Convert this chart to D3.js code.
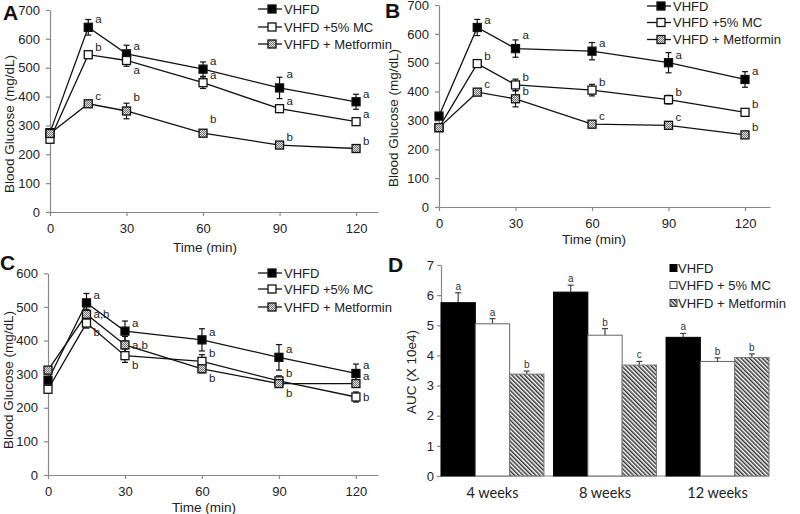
<!DOCTYPE html>
<html><head><meta charset="utf-8">
<script src="https://cdn.jsdelivr.net/npm/d3@7"></script>
<style>
body{margin:0;background:#fff;}
svg{display:block;font-family:"Liberation Sans",Arial,sans-serif;}
.tick text{fill:#222;}
</style></head>
<body>
<svg id="c" width="800" height="514"></svg>
<script>
// ---------- DATA ----------
const times = [0, 15, 30, 60, 90, 120];
const timeTicks = [0, 30, 60, 90, 120];
const seriesNames = ["VHFD", "VHFD +5% MC", "VHFD + Metformin"];

// Panel A
const aVHFD = [275, 640, 548, 495, 430, 382];
const aVHFDerr = [10, 27, 30, 25, 37, 26];
const aMC = [252, 545, 525, 448, 358, 313];
const aMCerr = [8, 10, 20, 20, 12, 10];
const aMet = [272, 375, 350, 273, 232, 220];
const aMetErr = [8, 10, 27, 7, 5, 5];
const aVHFDlet = ["", "a", "a", "a", "a", "a"];
const aMClet = ["", "b", "a", "a", "a", "a"];
const aMetLet = ["", "c", "b", "b", "b", "b"];
const aVHFDpos = ["", "u", "u", "u", "h", "u"];
const aMCpos = ["", "u", "d", "u", "u", "u"];
const aMetPos = ["", "u", "h", "h", "u", "u"];

// Panel B
const bVHFD = [315, 622, 549, 540, 500, 442];
const bVHFDerr = [8, 28, 30, 30, 35, 27];
const bMC = [275, 497, 423, 405, 372, 328];
const bMCerr = [6, 8, 20, 20, 15, 10];
const bMet = [275, 398, 375, 287, 283, 250];
const bMetErr = [6, 8, 28, 5, 5, 5];
const bVHFDlet = ["", "a", "a", "a", "a", "a"];
const bMClet = ["", "b", "b", "b", "b", "b"];
const bMetLet = ["", "c", "b", "c", "c", "b"];
const bVHFDpos = ["", "u", "h", "u", "u", "u"];
const bMCpos = ["", "u", "u", "u", "u", "u"];
const bMetPos = ["", "u", "u", "u", "u", "u"];

// Panel C
const cVHFD = [282, 512, 428, 402, 350, 302];
const cVHFDerr = [8, 28, 30, 33, 38, 28];
const cMC = [255, 452, 355, 338, 280, 232];
const cMCerr = [6, 15, 20, 20, 15, 15];
const cMet = [312, 478, 387, 316, 272, 272];
const cMetErr = [6, 15, 25, 12, 10, 5];
const cVHFDlet = ["", "a", "a", "a", "a", "a"];
const cMClet = ["", "b", "b", "b", "b", "b"];
const cMetLet = ["", "a,b", "a,b", "b", "b", "a"];
const cVHFDpos = ["", "u", "u", "u", "u", "u"];
const cMCpos = ["", "d", "d", "u", "u", "m"];
const cMetPos = ["", "m", "m", "d", "d", "u"];

// Panel D
const weeks = ["4 weeks", "8 weeks", "12 weeks"];
const barNames = ["VHFD", "VHFD + 5% MC", " VHFD + Metformin"];
const dVHFD = [5.75, 6.1, 4.6];
const dVHFDerr = [0.33, 0.23, 0.13];
const dMC = [5.05, 4.67, 3.8];
const dMCerr = [0.17, 0.22, 0.12];
const dMet = [3.38, 3.68, 3.93];
const dMetErr = [0.1, 0.12, 0.12];
const dVHFDlet = ["a", "a", "a"];
const dMClet = ["a", "b", "b"];
const dMetLet = ["b", "c", "b"];
const aucTicks = [0, 1, 2, 3, 4, 5, 6, 7];
const glucTicks700 = [0, 100, 200, 300, 400, 500, 600, 700];
const glucTicks600 = [0, 100, 200, 300, 400, 500, 600];

// ---------- DRAW ----------
const svg = d3.select("#c");
const defs = svg.append("defs");
const cross = defs.append("pattern").attr("id", "cross").attr("patternUnits", "userSpaceOnUse")
  .attr("width", 2).attr("height", 2);
cross.append("rect").attr("width", 2).attr("height", 2).attr("fill", "#e4e4e4");
cross.append("rect").attr("width", 1).attr("height", 1).attr("fill", "#707070");
cross.append("rect").attr("x", 1).attr("y", 1).attr("width", 1).attr("height", 1).attr("fill", "#707070");
const hatch = defs.append("pattern").attr("id", "hatch").attr("patternUnits", "userSpaceOnUse")
  .attr("width", 3).attr("height", 3).attr("patternTransform", "rotate(-45)");
hatch.append("rect").attr("width", 3).attr("height", 3).attr("fill", "#fff");
hatch.append("line").attr("x1", 0.75).attr("x2", 0.75).attr("y1", 0).attr("y2", 3)
  .attr("stroke", "#333").attr("stroke-width", 1.5);

const markerFill = ["#000", "#fff", "url(#cross)"];
const posDy = {h: -10, u: -4, m: 4, d: 13};
const axisCol = "#888";

function styleAxis(g) {
  g.select(".domain").attr("stroke", axisCol).attr("stroke-width", 1.2);
  g.selectAll(".tick line").attr("stroke", axisCol).attr("stroke-width", 1.2);
  g.selectAll(".tick text").attr("font-size", 13).attr("font-family", "Liberation Sans, Arial, sans-serif");
}

function linePanel(p) {
  const g = svg.append("g");
  const x = d3.scaleLinear().domain([0, p.xMax]).range([p.x0, p.x1]);
  const y = d3.scaleLinear().domain([0, p.yMax]).range([p.y0, p.y1]);
  const gx = g.append("g").attr("transform", `translate(0,${p.y0})`)
    .call(d3.axisBottom(x).tickValues(timeTicks).tickSize(4).tickSizeOuter(0).tickPadding(8));
  styleAxis(gx);
  const gy = g.append("g").attr("transform", `translate(${p.x0},0)`)
    .call(d3.axisLeft(y).tickValues(p.yTicks).tickSize(4).tickSizeOuter(0).tickPadding(6));
  styleAxis(gy);
  g.append("text").attr("x", (p.x0 + x(120)) / 2 + 2).attr("y", p.xlabY).attr("text-anchor", "middle")
    .attr("font-size", 13.5).attr("fill", "#222").text("Time (min)");
  g.append("text").attr("transform", `translate(${p.ylabX},${p.ylabY}) rotate(-90)`)
    .attr("text-anchor", "middle").attr("font-size", 13.5).attr("fill", "#222").text("Blood Glucose (mg/dL)");
  g.append("text").attr("x", p.lx).attr("y", p.ly).attr("font-size", 21).attr("font-weight", "bold")
    .attr("fill", "#111").text(p.letter);

  const line = d3.line().x((d, i) => x(times[i])).y(d => y(d));
  p.series.forEach(s => {
    g.append("path").attr("d", line(s.v)).attr("fill", "none").attr("stroke", "#111").attr("stroke-width", 1.3);
  });
  p.series.forEach(s => {
    s.v.forEach((v, i) => {
      const cx = x(times[i]), e = s.e[i];
      g.append("line").attr("x1", cx).attr("x2", cx).attr("y1", y(v - e)).attr("y2", y(v + e))
        .attr("stroke", "#111").attr("stroke-width", 1.2);
      [v - e, v + e].forEach(t => g.append("line").attr("x1", cx - 3).attr("x2", cx + 3)
        .attr("y1", y(t)).attr("y2", y(t)).attr("stroke", "#111").attr("stroke-width", 1.2));
    });
  });
  p.series.forEach((s, k) => {
    s.v.forEach((v, i) => {
      g.append("rect").attr("x", x(times[i]) - 4).attr("y", y(v) - 4).attr("width", 8).attr("height", 8)
        .attr("fill", markerFill[k]).attr("stroke", "#111").attr("stroke-width", 1.3);
    });
  });
  p.series.forEach(s => {
    s.v.forEach((v, i) => {
      if (!s.l[i]) return;
      g.append("text").attr("x", x(times[i]) + 7).attr("y", y(v) + posDy[s.p[i]])
        .attr("font-size", 11.5).attr("fill", "#222").text(s.l[i]);
    });
  });
  // legend
  seriesNames.forEach((n, k) => {
    const ly = p.legY[k];
    g.append("line").attr("x1", p.legX).attr("x2", p.legX + 24).attr("y1", ly).attr("y2", ly)
      .attr("stroke", "#111").attr("stroke-width", 1.3);
    g.append("rect").attr("x", p.legX + 10).attr("y", ly - 4).attr("width", 8).attr("height", 8)
      .attr("fill", markerFill[k]).attr("stroke", "#111").attr("stroke-width", 1.3);
    g.append("text").attr("x", p.legX + 26).attr("y", ly).attr("dy", "0.36em").attr("font-size", 13)
      .attr("fill", "#222").text(n);
  });
}

linePanel({letter: "A", lx: 3, ly: 20, x0: 50, x1: 378, xMax: 128.6, y0: 212, y1: 10, yMax: 700,
  yTicks: glucTicks700, xlabY: 252, ylabX: 14, ylabY: 124, legX: 258, legY: [9, 27, 44],
  series: [
    {v: aVHFD, e: aVHFDerr, l: aVHFDlet, p: aVHFDpos},
    {v: aMC, e: aMCerr, l: aMClet, p: aMCpos},
    {v: aMet, e: aMetErr, l: aMetLet, p: aMetPos}]});
linePanel({letter: "B", lx: 385, ly: 18, x0: 439, x1: 770, xMax: 129.8, y0: 207, y1: 5, yMax: 700,
  yTicks: glucTicks700, xlabY: 244, ylabX: 398, ylabY: 118, legX: 647, legY: [6, 22.5, 39.5],
  series: [
    {v: bVHFD, e: bVHFDerr, l: bVHFDlet, p: bVHFDpos},
    {v: bMC, e: bMCerr, l: bMClet, p: bMCpos},
    {v: bMet, e: bMetErr, l: bMetLet, p: bMetPos}]});
linePanel({letter: "C", lx: 0, ly: 270, x0: 48, x1: 378, xMax: 128.6, y0: 475, y1: 273.3, yMax: 600,
  yTicks: glucTicks600, xlabY: 512, ylabX: 13, ylabY: 380, legX: 258, legY: [273, 289, 307],
  series: [
    {v: cVHFD, e: cVHFDerr, l: cVHFDlet, p: cVHFDpos},
    {v: cMC, e: cMCerr, l: cMClet, p: cMCpos},
    {v: cMet, e: cMetErr, l: cMetLet, p: cMetPos}]});

// ---------- Panel D ----------
(function () {
  const g = svg.append("g");
  const x0 = d3.scaleBand().domain(weeks).range([441, 769]).paddingInner(0.085).paddingOuter(0);
  const x1 = d3.scaleBand().domain([0, 1, 2]).range([0, x0.bandwidth()]).padding(0);
  const y = d3.scaleLinear().domain([0, 7]).range([476, 265]);
  const gy = g.append("g").attr("transform", "translate(441,0)")
    .call(d3.axisLeft(y).tickValues(aucTicks).tickFormat(d3.format("d")).tickSize(4).tickSizeOuter(0).tickPadding(3));
  styleAxis(gy);
  g.append("line").attr("x1", 441).attr("x2", 769).attr("y1", y(0)).attr("y2", y(0))
    .attr("stroke", axisCol).attr("stroke-width", 1.2);
  const series = [
    {v: dVHFD, e: dVHFDerr, l: dVHFDlet, fill: "#000", stroke: "#000"},
    {v: dMC, e: dMCerr, l: dMClet, fill: "#fff", stroke: "#666"},
    {v: dMet, e: dMetErr, l: dMetLet, fill: "url(#hatch)", stroke: "#777"}];
  series.forEach((s, k) => {
    weeks.forEach((w, i) => {
      const bx = x0(w) + x1(k), bw = x1.bandwidth(), v = s.v[i], e = s.e[i];
      const cx = bx + bw / 2;
      g.append("line").attr("x1", cx).attr("x2", cx).attr("y1", y(v)).attr("y2", y(v + e))
        .attr("stroke", "#444").attr("stroke-width", 1.2);
      g.append("line").attr("x1", cx - 3).attr("x2", cx + 3).attr("y1", y(v + e)).attr("y2", y(v + e))
        .attr("stroke", "#444").attr("stroke-width", 1.2);
      g.append("rect").attr("x", bx).attr("y", y(v)).attr("width", bw).attr("height", y(0) - y(v))
        .attr("fill", s.fill).attr("stroke", s.stroke).attr("stroke-width", 1);
      g.append("text").attr("x", cx).attr("y", y(v + e) - 3).attr("text-anchor", "middle")
        .attr("font-size", 10).attr("fill", "#333").text(s.l[i]);
    });
  });
  weeks.forEach(w => {
    g.append("text").attr("x", x0(w) + x0.bandwidth() / 2).attr("y", 498).attr("text-anchor", "middle")
      .attr("font-family", "Lato, 'Open Sans', sans-serif").attr("font-size", 14.5).attr("fill", "#222").text(w);
  });
  g.append("text").attr("transform", "translate(416,372) rotate(-90)").attr("text-anchor", "middle")
    .attr("font-size", 13.5).attr("fill", "#222").text("AUC (X 10e4)");
  g.append("text").attr("x", 388).attr("y", 272).attr("font-size", 21).attr("font-weight", "bold")
    .attr("fill", "#111").text("D");
  const legY = [268, 285, 303];
  const legFill = ["#000", "#fff", "url(#hatch)"];
  barNames.forEach((n, k) => {
    g.append("rect").attr("x", 670).attr("y", legY[k] - 3.5).attr("width", 7).attr("height", 7)
      .attr("fill", legFill[k]).attr("stroke", k === 0 ? "#000" : "#444").attr("stroke-width", 1);
    g.append("text").attr("x", 678).attr("y", legY[k]).attr("dy", "0.36em").attr("font-size", 13)
      .attr("fill", "#222").text(n);
  });
})();
</script>
</body></html>
